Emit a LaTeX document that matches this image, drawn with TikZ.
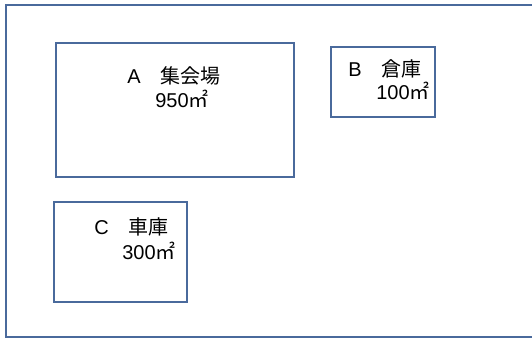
\documentclass[tikz,border=0pt]{standalone}
\usepackage{fontspec}
\setmainfont{Liberation Sans}
\newfontfamily\cjk{Noto Sans CJK JP}
\definecolor{plotline}{HTML}{4A6A9C}

\begin{document}
\begin{tikzpicture}[x=0.75pt, y=-0.75pt,
		building/.style={rectangle, draw=plotline, line width=1.3pt, inner sep=0pt},
		label/.style={anchor=base west, inner sep=0pt, font=\fontsize{15pt}{17pt}\selectfont}]

		\useasboundingbox (0,0) rectangle (532,338);
		\clip (0,0) rectangle (532,338);

		% site boundary, runs off the right edge
		\coordinate (ne) at (545,5);
		\coordinate (nw) at (6,5);
		\coordinate (sw) at (6,337);
		\coordinate (se) at (545,337);
		\draw[draw=plotline, line width=1.3pt] (ne) -- (nw) -- (sw) -- (se);

		\node[building, minimum width=178.5pt, minimum height=100.5pt] (A) at (175,110) {};
		\node[building, minimum width=78pt, minimum height=52.5pt] (B) at (383,82) {};
		\node[building, minimum width=99.75pt, minimum height=75pt] (C) at (120.5,252) {};

		\node[label] (Aname) at (127,84) {A{\cjk　集会場}};
		\node[label] (Aarea) at (155,108) {950{\cjk ㎡}};
		\node[label] (Bname) at (348,77) {B{\cjk　倉庫}};
		\node[label] (Barea) at (376,100) {100{\cjk ㎡}};
		\node[label] (Cname) at (94,235) {C{\cjk　車庫}};
		\node[label] (Carea) at (122,260) {300{\cjk ㎡}};

\end{tikzpicture}
\end{document}
